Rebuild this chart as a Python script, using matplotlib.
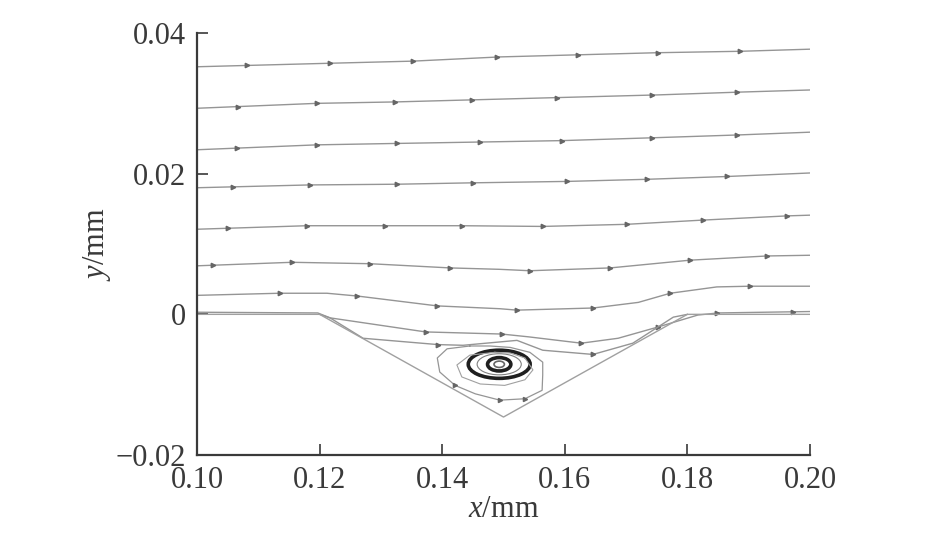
import numpy as np
import matplotlib
matplotlib.use("Agg")
import matplotlib.pyplot as plt
from matplotlib.patches import Ellipse

# Streamlines (x in mm, y in mm)
line1_x = [0.100, 0.1217, 0.1352, 0.1494, 0.1622, 0.1752, 0.1886, 0.200]
line1_y = [0.0352, 0.0357, 0.0360, 0.0366, 0.0369, 0.0372, 0.0374, 0.0377]
line1_arrows = [0.1082, 0.1217, 0.1352, 0.1489, 0.1622, 0.1752, 0.1886]

line2_x = [0.100, 0.1196, 0.1323, 0.1494, 0.1752, 0.1886, 0.200]
line2_y = [0.0293, 0.0300, 0.0302, 0.0306, 0.0312, 0.0316, 0.0319]
line2_arrows = [0.1067, 0.1196, 0.1323, 0.1449, 0.1587, 0.1742, 0.1881]

line3_x = [0.100, 0.1196, 0.1326, 0.1462, 0.1595, 0.1742, 0.1881, 0.200]
line3_y = [0.0234, 0.0241, 0.0243, 0.0245, 0.0247, 0.0251, 0.0255, 0.0259]
line3_arrows = [0.1065, 0.1196, 0.1326, 0.1462, 0.1595, 0.1742, 0.1881]

line4_x = [0.100, 0.1184, 0.1326, 0.1450, 0.1604, 0.1734, 0.1865, 0.200]
line4_y = [0.0180, 0.0184, 0.0185, 0.0187, 0.0189, 0.0192, 0.0196, 0.0201]
line4_arrows = [0.1059, 0.1184, 0.1326, 0.1450, 0.1604, 0.1734, 0.1865]

line5_x = [0.100, 0.1179, 0.1307, 0.1432, 0.1564, 0.1701, 0.1825, 0.1963, 0.200]
line5_y = [0.0121, 0.0126, 0.0126, 0.0126, 0.0125, 0.0128, 0.0134, 0.0140, 0.0141]
line5_arrows = [0.1051, 0.1179, 0.1307, 0.1432, 0.1564, 0.1701, 0.1825, 0.1963]

line6_x = [0.100, 0.1155, 0.1282, 0.1413, 0.1494, 0.1543, 0.1674, 0.1804, 0.1930, 0.200]
line6_y = [0.0069, 0.0074, 0.0072, 0.0066, 0.0064, 0.0062, 0.0066, 0.0077, 0.0083, 0.0084]
line6_arrows = [0.1026, 0.1155, 0.1282, 0.1413, 0.1543, 0.1674, 0.1804, 0.1930]

line7_x = [0.100, 0.1135, 0.1212, 0.1262, 0.1392, 0.1494, 0.1522, 0.1646, 0.1720, 0.1772, 0.1848, 0.1902, 0.200]
line7_y = [0.0027, 0.0030, 0.0030, 0.0026, 0.0012, 0.0008, 0.0006, 0.0009, 0.0017, 0.0030, 0.0039, 0.0040, 0.0040]
line7_arrows = [0.1135, 0.1261, 0.1392, 0.1522, 0.1646, 0.1772, 0.1902]

lineB_x = [0.100, 0.1197, 0.1217, 0.1373, 0.1497, 0.1541, 0.1627, 0.1687, 0.1752, 0.1817, 0.1850, 0.200]
lineB_y = [0.0003, 0.0002, -0.0005, -0.0025, -0.0028, -0.0032, -0.0041, -0.0034, -0.0018, -0.0001, 0.0002, 0.0004]
lineB_arrows = [0.1373, 0.1497, 0.1627, 0.1752, 0.1848, 0.1972]

lineC_x = [0.1200, 0.1217, 0.1271, 0.1393, 0.1434, 0.1522, 0.1564, 0.1646, 0.1711, 0.1777, 0.1800]
lineC_y = [0.0000, -0.0005, -0.0034, -0.0043, -0.0044, -0.0037, -0.0051, -0.0057, -0.0041, -0.0004, 0.0000]
lineC_arrows = [0.1393, 0.1646]

# cavity wall
wall_x = [0.100, 0.120, 0.150, 0.180, 0.200]
wall_y = [0.0, 0.0, -0.0146, 0.0, 0.0]

# recirculating loops inside the cavity
loopD_x = [0.1445, 0.1408, 0.1392, 0.1396, 0.1421, 0.1454, 0.1494, 0.1535, 0.1563, 0.1564, 0.1564, 0.1543, 0.1511, 0.1478, 0.1445]
loopD_y = [-0.0045, -0.0049, -0.0062, -0.0082, -0.0101, -0.0113, -0.0122, -0.0120, -0.0108, -0.0086, -0.0068, -0.0054, -0.0047, -0.0045, -0.0045]
loopD_marks = [4, 6, 7]

loopE_x = [0.1486, 0.1445, 0.1424, 0.1432, 0.1462, 0.1502, 0.1535, 0.1548, 0.1535, 0.1511, 0.1486]
loopE_y = [-0.0054, -0.0058, -0.0072, -0.0089, -0.0099, -0.0101, -0.0093, -0.0079, -0.0062, -0.0055, -0.0054]

# vortex core rings: (width, height, line width, colour)
vortex_center = (0.1493, -0.0071)
ring_w = [0.0101, 0.0072, 0.0038, 0.0017]
ring_h = [0.0040, 0.0030, 0.0019, 0.0009]
ring_lw = [2.6, 0.8, 2.6, 1.2]
ring_col = ["#1f1f1f", "#808080", "#1f1f1f", "#666666"]

xticks = [0.10, 0.12, 0.14, 0.16, 0.18, 0.20]
xtick_labels = ["0.10", "0.12", "0.14", "0.16", "0.18", "0.20"]
yticks = [-0.02, 0.0, 0.02, 0.04]
ytick_labels = ["\u22120.02", "0", "0.02", "0.04"]

plt.rcParams["font.family"] = ["Liberation Serif", "DejaVu Serif"]
plt.rcParams["mathtext.fontset"] = "custom"
plt.rcParams["mathtext.it"] = "Liberation Serif:italic"
plt.rcParams["mathtext.rm"] = "Liberation Serif"

fig = plt.figure(figsize=(9.49, 5.51), dpi=100)
ax = fig.add_axes([0.2076, 0.1742, 0.6459, 0.7659])

line_col = "#959595"
arrow_col = "#666666"
text_col = "#3a3a3a"

streamlines = [
    (line1_x, line1_y, line1_arrows),
    (line2_x, line2_y, line2_arrows),
    (line3_x, line3_y, line3_arrows),
    (line4_x, line4_y, line4_arrows),
    (line5_x, line5_y, line5_arrows),
    (line6_x, line6_y, line6_arrows),
    (line7_x, line7_y, line7_arrows),
    (lineB_x, lineB_y, lineB_arrows),
    (lineC_x, lineC_y, lineC_arrows),
]

for xs, ys, arr in streamlines:
    ax.plot(xs, ys, color=line_col, lw=1.0)
    ay = np.interp(arr, xs, ys)
    ax.plot(arr, ay, ls="none", marker=">", ms=3.2, color=arrow_col)

ax.plot(wall_x, wall_y, color="#a0a0a0", lw=1.0)

ax.plot(loopD_x, loopD_y, color=line_col, lw=0.9,
        marker=">", ms=3, mfc=arrow_col, mec=arrow_col, markevery=loopD_marks)
ax.plot(loopE_x, loopE_y, color="#a0a0a0", lw=0.8)

for w, h, lw, c in zip(ring_w, ring_h, ring_lw, ring_col):
    ax.add_patch(Ellipse(vortex_center, w, h, fill=False, lw=lw, edgecolor=c))

ax.set_xlim(0.10, 0.20)
ax.set_ylim(-0.02, 0.04)
ax.set_xticks(xticks)
ax.set_xticklabels(xtick_labels)
ax.set_yticks(yticks)
ax.set_yticklabels(ytick_labels)
ax.tick_params(direction="in", length=8, width=1.2, labelsize=22, color=text_col,
               labelcolor=text_col)
ax.tick_params(axis="x", pad=8)
ax.tick_params(axis="y", pad=8)

ax.spines["top"].set_visible(False)
ax.spines["right"].set_visible(False)
for s in ["left", "bottom"]:
    ax.spines[s].set_linewidth(1.6)
    ax.spines[s].set_color(text_col)

ax.set_xlabel(r"$x$/mm", fontsize=22, color=text_col, labelpad=0)
ax.set_ylabel(r"$y$/mm", fontsize=22, color=text_col, labelpad=2)

fig.savefig("out.png", dpi=100)
